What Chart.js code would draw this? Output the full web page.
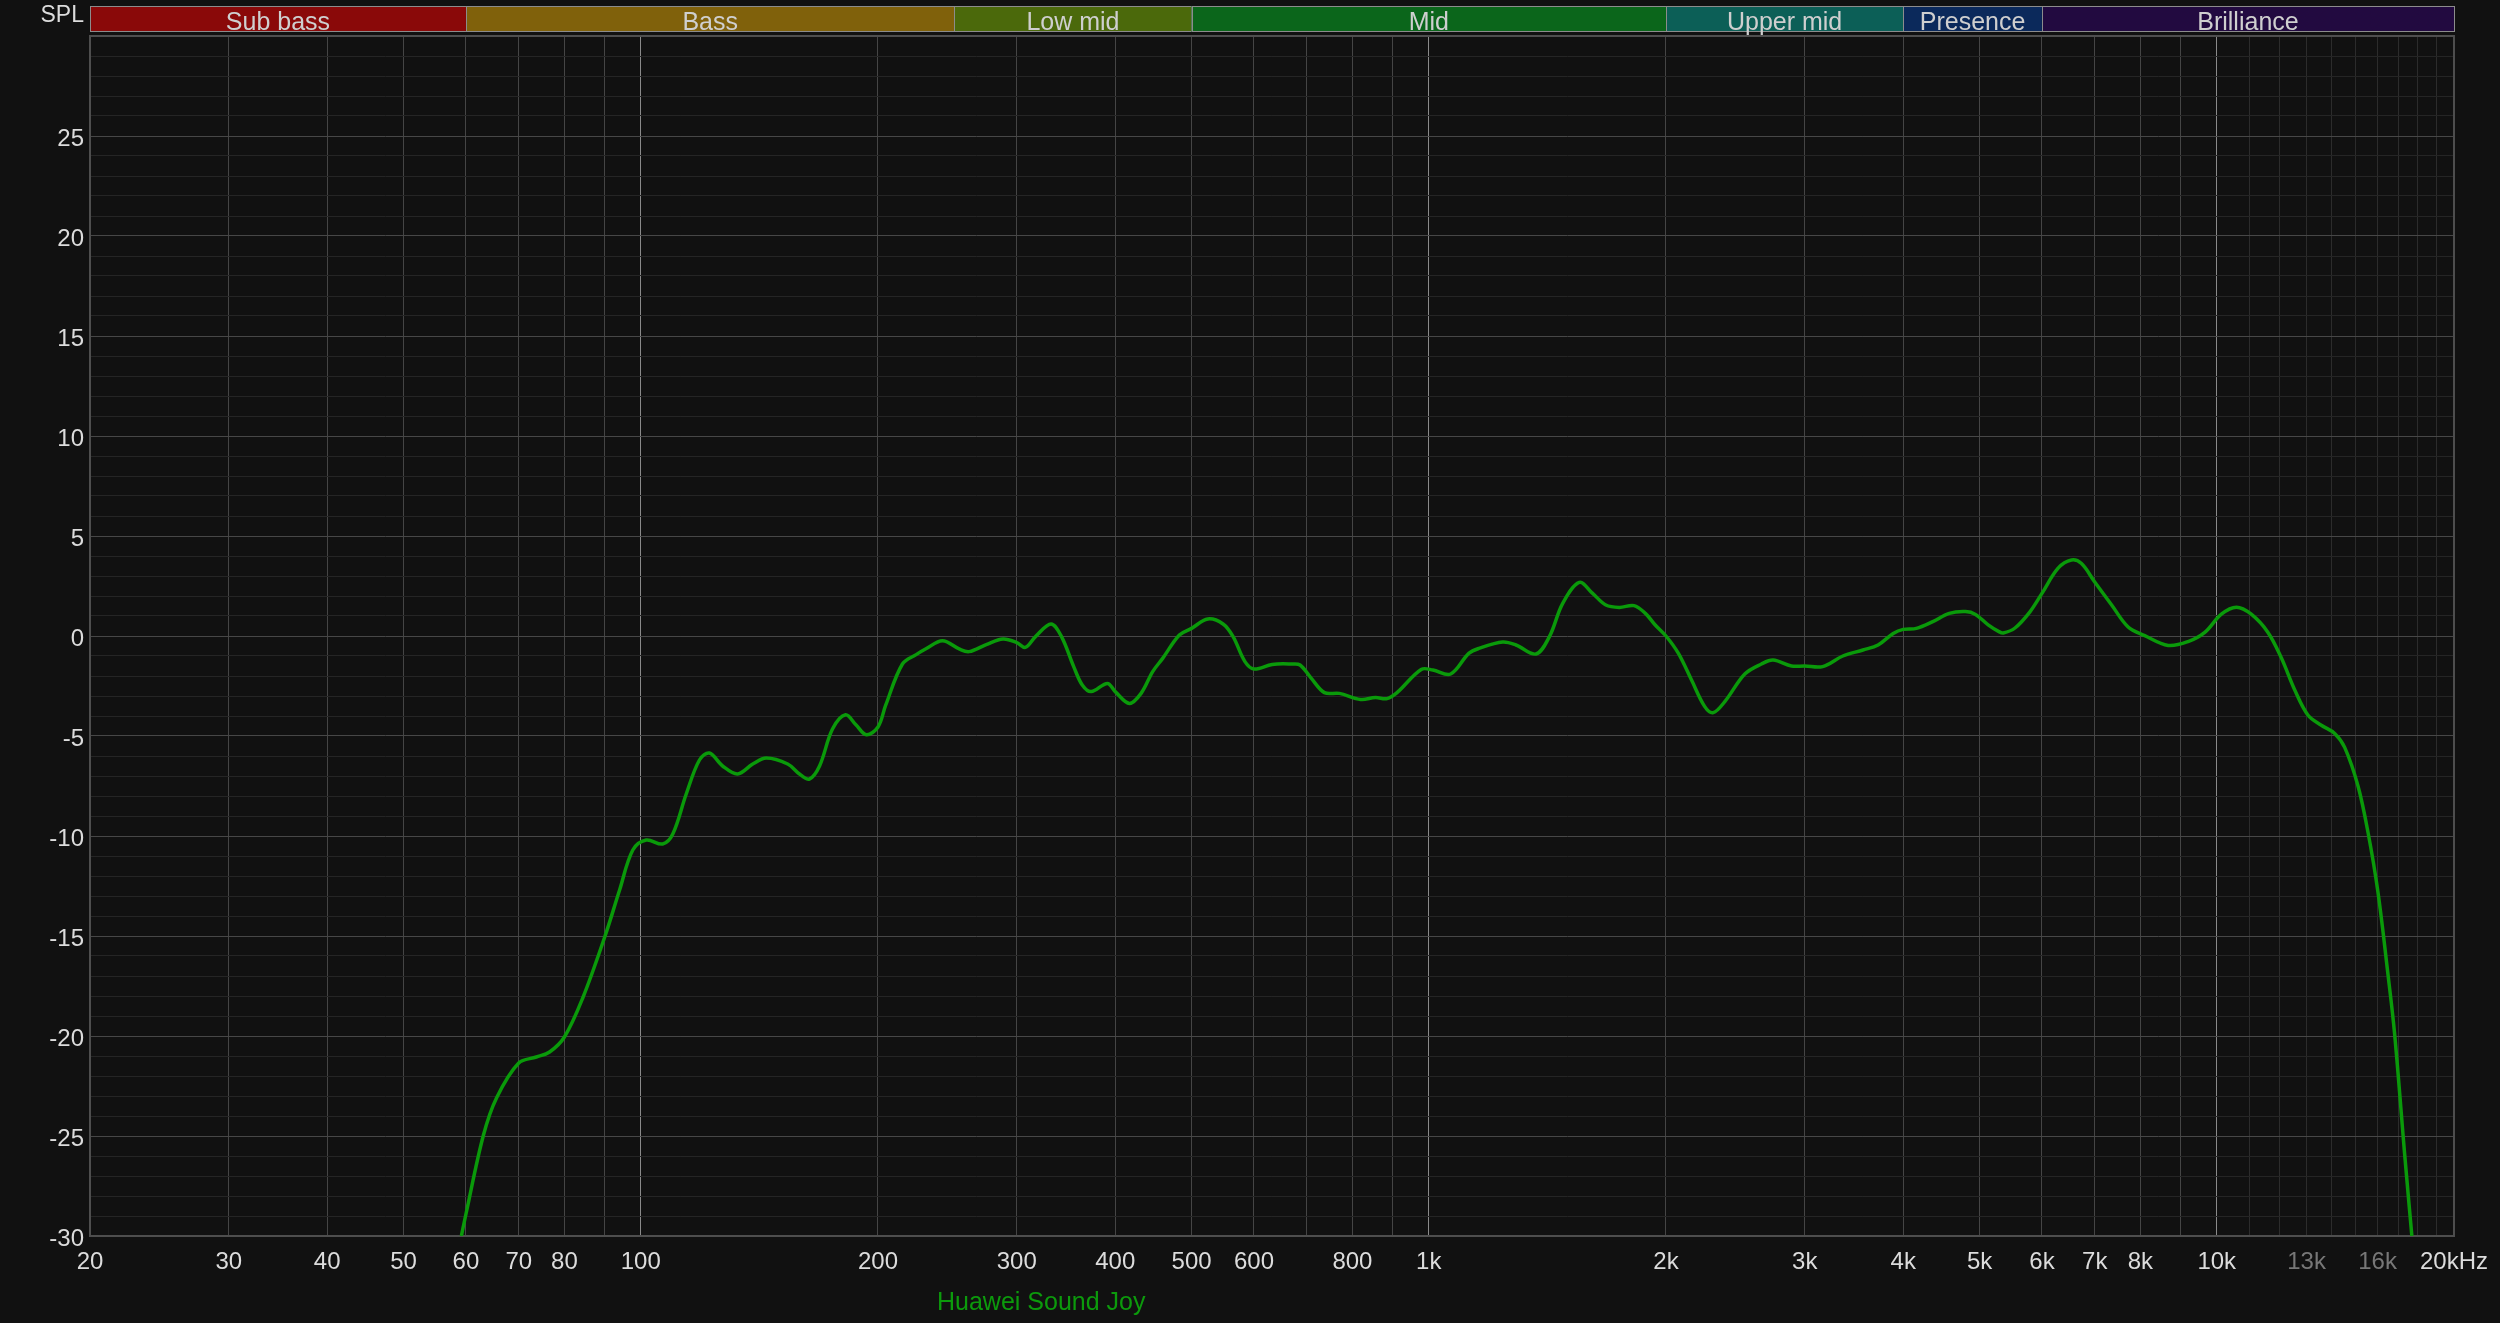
<!DOCTYPE html>
<html>
<head>
<meta charset="utf-8">
<title>Huawei Sound Joy - frequency response</title>
<script src="https://cdn.jsdelivr.net/npm/chart.js@4.4.1/dist/chart.umd.min.js"></script>
<style>
  html, body { margin: 0; padding: 0; background: #111111; }
  canvas { display: block; }
</style>
</head>
<body>
<canvas id="frChart" width="2500" height="1323"></canvas>
<script>
// measured response, Hz / dB
const freqs = [
  59.2, 60, 63.1, 65.6, 70, 73.7, 76.6, 80, 84.4, 90, 94, 97.7,
  101.6, 106.6, 109.8, 114.2, 118.7, 122.2, 127, 132.7, 138.7, 144.3, 153.6, 159,
  163.7, 168.6, 175.1, 181.9, 187.5, 193.3, 200, 204.5, 214.8, 223.6, 230.1, 241.5,
  253.9, 261, 274.4, 288.2, 300, 307.6, 316.9, 331.6, 341.9, 354.3, 363.3, 372.9,
  391, 400, 417, 431.4, 446.3, 459.5, 482.5, 500, 524.3, 548.2, 564.5, 584.4,
  600, 632.8, 670.3, 686.5, 709.5, 737.2, 770, 819.4, 855.6, 885.2, 911.4, 978.1,
  1012, 1066, 1124, 1157.7, 1241, 1290, 1368, 1422.7, 1479, 1552.5, 1614, 1677.6,
  1744.5, 1821.6, 1883, 1938, 2000, 2074, 2155, 2240, 2296, 2375, 2518, 2643,
  2735, 2886, 3000, 3161, 3353, 3556, 3717, 3885, 4000, 4157, 4361, 4576,
  4800, 4941, 5127, 5291, 5358, 5545, 5793, 6000, 6290, 6540, 6735, 7000,
  7355, 7718, 8102, 8675, 9195, 9656, 10135, 10590, 11060, 11614, 12075, 12559,
  13055, 13571, 14112, 14531, 15108, 15554, 16015, 16489, 16815, 17314, 17684
];
const spl = [
  -30, -28.9, -25.0, -23.1, -21.35, -21.05, -20.8, -20.05, -18.1, -15.05, -12.7, -10.7,
  -10.2, -10.4, -9.9, -7.9, -6.2, -5.85, -6.5, -6.9, -6.4, -6.1, -6.4, -6.9,
  -7.15, -6.5, -4.65, -3.94, -4.44, -4.94, -4.55, -3.47, -1.4, -0.93, -0.64, -0.24,
  -0.66, -0.78, -0.43, -0.15, -0.33, -0.57, -0.03, 0.6, -0.03, -1.53, -2.45, -2.78,
  -2.37, -2.78, -3.37, -2.87, -1.78, -1.12, 0.05, 0.38, 0.85, 0.6, -0.03, -1.28,
  -1.65, -1.42, -1.4, -1.45, -2.12, -2.83, -2.87, -3.17, -3.08, -3.13, -2.83, -1.67,
  -1.7, -1.9, -0.87, -0.62, -0.3, -0.45, -0.9, -0.03, 1.63, 2.68, 2.13, 1.55,
  1.43, 1.52, 1.13, 0.55, 0, -0.87, -2.2, -3.53, -3.83, -3.28, -1.9, -1.4,
  -1.2, -1.5, -1.5, -1.53, -1.0, -0.7, -0.45, 0.13, 0.33, 0.38, 0.72, 1.13,
  1.22, 1.08, 0.56, 0.22, 0.15, 0.4, 1.21, 2.13, 3.39, 3.8, 3.62, 2.7,
  1.55, 0.45, 0.02, -0.47, -0.28, 0.18, 1.09, 1.44, 1.09, 0.18, -1.09, -2.7,
  -3.96, -4.46, -4.87, -5.57, -7.5, -9.8, -12.8, -16.9, -19.9, -25.9, -30
];
const seriesName = "Huawei Sound Joy";

// frequency bands on top strip
const bandNames = ["Sub bass", "Bass", "Low mid", "Mid", "Upper mid", "Presence", "Brilliance"];
const bandEdges = [20, 60, 250, 500, 2000, 4000, 6000, 20000];
const bandColors = ["#8a0909", "#80610b", "#4b690b", "#0b661b", "#0c5f57", "#0b295b", "#220a40"];

// x axis: grid lines and labels
const gridFreqs = [
  20, 30, 40, 50, 60, 70, 80, 90, 100, 200, 300, 400, 500, 600, 700, 800, 900,
  1000, 2000, 3000, 4000, 5000, 6000, 7000, 8000, 9000, 10000,
  11000, 12000, 13000, 14000, 15000, 16000, 17000, 18000, 19000, 20000
];
const labelFreqs = [20, 30, 40, 50, 60, 70, 80, 100, 200, 300, 400, 500, 600, 800,
  1000, 2000, 3000, 4000, 5000, 6000, 7000, 8000, 10000, 13000, 16000, 20000];
const labelTexts = ["20", "30", "40", "50", "60", "70", "80", "100", "200", "300", "400", "500", "600", "800",
  "1k", "2k", "3k", "4k", "5k", "6k", "7k", "8k", "10k", "13k", "16k", "20kHz"];
const dimLabels = [13000, 16000];
const brightLines = [100, 1000, 10000];

// y axis
const yLabels = [-30, -25, -20, -15, -10, -5, 0, 5, 10, 15, 20, 25];

const FONT = "'Liberation Sans', Arial, sans-serif";

const overlay = {
  id: "overlay",
  beforeDatasetsDraw(chart) {
    const { ctx, chartArea } = chart;
    ctx.save();
    ctx.strokeStyle = "#4e4e4e";
    ctx.lineWidth = 2;
    ctx.strokeRect(chartArea.left, chartArea.top, chartArea.right - chartArea.left, chartArea.bottom - chartArea.top);
    ctx.restore();
  },
  afterDraw(chart) {
    const { ctx, scales } = chart;
    const xs = scales.x;
    ctx.save();

    // band strip
    ctx.font = "25px " + FONT;
    ctx.textAlign = "center";
    ctx.textBaseline = "alphabetic";
    for (let i = 0; i < bandNames.length; i++) {
      const x0 = xs.getPixelForValue(bandEdges[i]);
      const x1 = xs.getPixelForValue(bandEdges[i + 1]);
      ctx.fillStyle = bandColors[i];
      ctx.fillRect(x0, 6, x1 - x0, 26);
      ctx.strokeStyle = "#8c8c8c";
      ctx.lineWidth = 1;
      ctx.strokeRect(Math.round(x0) + 0.5, 6.5, Math.round(x1 - x0), 25);
      ctx.fillStyle = "#cfcfcf";
      ctx.fillText(bandNames[i], (x0 + x1) / 2, 30);
    }

    // axis title
    ctx.font = "23px " + FONT;
    ctx.textAlign = "right";
    ctx.fillStyle = "#dcdcdc";
    ctx.fillText("SPL", 84, 22);

    // series name under the axis
    ctx.font = "25px " + FONT;
    ctx.textAlign = "left";
    ctx.fillStyle = "#0c9a0c";
    ctx.fillText(seriesName, 937, 1310);

    ctx.restore();
  },
};

const chart = new Chart(document.getElementById("frChart"), {
  type: "line",
  data: {
    datasets: [
      {
        label: seriesName,
        data: freqs.map((f, i) => ({ x: f, y: spl[i] })),
        borderColor: "#0a9a0a",
        borderWidth: 3.5,
        pointRadius: 0,
        tension: 0.35,
        fill: false,
      },
    ],
  },
  options: {
    responsive: false,
    animation: false,
    devicePixelRatio: 1,
    layout: { padding: { top: 36, right: 44, left: 0, bottom: 0 } },
    plugins: {
      legend: { display: false },
      tooltip: { enabled: false },
    },
    scales: {
      x: {
        type: "logarithmic",
        min: 20,
        max: 20000,
        afterBuildTicks: (scale) => {
          scale.ticks = gridFreqs.map((v) => ({ value: v }));
        },
        afterFit: (scale) => {
          scale.height = 87;
        },
        border: { display: false },
        grid: {
          drawTicks: false,
          lineWidth: 1,
          color: (ctx) => {
            const v = ctx.tick ? ctx.tick.value : 0;
            if (brightLines.includes(v)) return "#8a8a8a";
            if (v > 10000) return "#2c2c2c";
            return "#454545";
          },
        },
        ticks: {
          autoSkip: false,
          maxRotation: 0,
          padding: 12,
          font: { family: FONT, size: 24 },
          color: (ctx) => (dimLabels.includes(ctx.tick.value) ? "#777777" : "#dcdcdc"),
          callback: (value) => {
            const idx = labelFreqs.indexOf(value);
            return idx === -1 ? "" : labelTexts[idx];
          },
        },
      },
      y: {
        min: -30,
        max: 30,
        afterFit: (scale) => {
          scale.width = 90;
        },
        border: { display: false },
        grid: {
          drawTicks: false,
          lineWidth: 1,
          color: (ctx) => (ctx.tick && ctx.tick.value % 5 === 0 ? "#474747" : "#252525"),
        },
        ticks: {
          stepSize: 1,
          autoSkip: false,
          padding: 6,
          labelOffset: 3,
          font: { family: FONT, size: 24 },
          color: "#dcdcdc",
          callback: (value) => (yLabels.includes(value) ? String(value) : ""),
        },
      },
    },
  },
  plugins: [overlay],
});
</script>
</body>
</html>
